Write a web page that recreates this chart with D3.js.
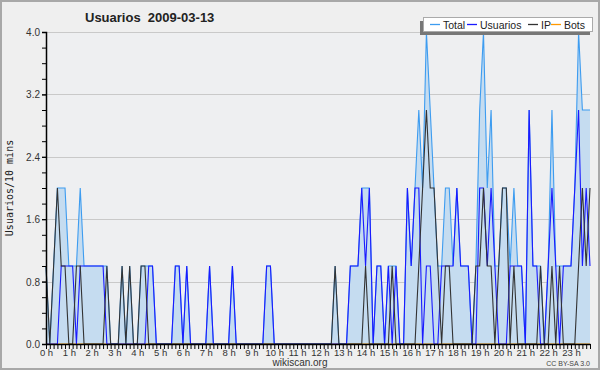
<!DOCTYPE html>
<html>
<head>
<meta charset="utf-8">
<script src="https://cdn.jsdelivr.net/npm/d3@7"></script>
<style>
  html, body { margin: 0; padding: 0; background: #fff; }
  svg { display: block; }
</style>
</head>
<body>
<div id="chart"></div>
<script>
'use strict'

////////////////////////////////////
//////////////// data //////////////
////////////////////////////////////

// one value per 10 minutes, 144 slots
const total = [
    1,0,1,2,2,2,  1,1,1,2,1,1,  1,1,1,1,1,0,  0,0,1,0,1,0,
    0,1,1,1,1,0,  0,0,0,0,1,1,  0,1,0,0,0,0,  0,1,0,0,0,0,
    0,1,0,0,0,0,  0,0,0,0,1,1,  0,0,0,0,0,0,  0,0,0,0,0,0,
    0,0,0,0,1,0,  0,0,1,1,1,2,  2,2,0,1,1,0,  1,1,1,0,0,2,
    1,2,3,2,4,3,  2,1,1,2,2,1,  2,1,1,1,0,1,  3,4,2,3,1,1,
    2,2,1,2,1,1,  0,3,1,1,1,0,  1,3,1,1,1,1,  1,2,4,3,3,3
]
const usuarios = [
    0,0,0,0,1,1,  1,1,0,1,1,1,  1,1,1,1,0,0,  0,0,0,0,0,0,
    0,0,0,1,1,0,  0,0,0,0,1,1,  0,1,0,0,0,0,  0,1,0,0,0,0,
    0,1,0,0,0,0,  0,0,0,0,1,1,  0,0,0,0,0,0,  0,0,0,0,0,0,
    0,0,0,0,0,0,  0,0,1,1,1,2,  1,2,0,1,1,0,  1,0,1,0,0,2,
    1,2,2,0,1,1,  0,0,1,1,1,1,  2,1,1,1,0,0,  2,2,1,2,1,0,
    0,0,1,1,1,1,  0,3,1,1,0,0,  1,2,1,0,1,1,  1,2,3,1,2,1
]
const ip = [
    1,0,1,2,1,1,  0,0,1,1,0,0,  0,0,0,0,1,0,  0,0,1,0,1,0,
    0,1,1,0,0,0,  0,0,0,0,0,0,  0,0,0,0,0,0,  0,0,0,0,0,0,
    0,0,0,0,0,0,  0,0,0,0,0,0,  0,0,0,0,0,0,  0,0,0,0,0,0,
    0,0,0,0,1,0,  0,0,0,0,0,0,  1,0,0,0,0,0,  0,1,0,0,0,0,
    0,0,1,2,3,2,  2,1,0,1,1,0,  0,0,0,0,0,1,  1,2,1,1,0,1,
    2,2,0,1,0,0,  0,0,0,0,1,0,  0,1,0,1,0,0,  0,0,1,2,1,2
]
const bots = new Array(144).fill(0)

const hourLabels = ['0 h','1 h','2 h','3 h','4 h','5 h','6 h','7 h','8 h','9 h','10 h','11 h',
    '12 h','13 h','14 h','15 h','16 h','17 h','18 h','19 h','20 h','21 h','22 h','23 h']
const yTicks = [0, 0.8, 1.6, 2.4, 3.2, 4.0]

const series = [
    {name: 'Total', values: total, color: '#3d9cf0'},
    {name: 'Usuarios', values: usuarios, color: '#1a1aff'},
    {name: 'IP', values: ip, color: '#333333'},
    {name: 'Bots', values: bots, color: '#ff9900'}
]

////////////////////////////////////
//////////// svg setup /////////////
////////////////////////////////////

const svgWidth = 600
const svgHeight = 370
const sans = '"Liberation Sans", Arial, sans-serif'

const plot = {left: 46, right: 590, top: 32, bottom: 344}

const svg = d3.select('#chart')
    .append('svg')
    .attr('width', svgWidth)
    .attr('height', svgHeight)
    .style('font-family', sans)

// background + frame
svg.append('rect')
    .attr('x', 1).attr('y', 1)
    .attr('width', svgWidth - 2).attr('height', svgHeight - 2)
    .attr('fill', '#efefef')
    .attr('stroke', '#a8a8a8')
    .attr('stroke-width', 2)

svg.append('rect')
    .attr('x', plot.left).attr('y', plot.top)
    .attr('width', plot.right - plot.left).attr('height', plot.bottom - plot.top)
    .attr('fill', '#eeeff1')

////////////////////////////////////
//////////////scales////////////////
////////////////////////////////////

const xScale = d3.scaleLinear()
    .domain([0, total.length - 1])
    .range([plot.left, plot.right])

const yScale = d3.scaleLinear()
    .domain([0, 4])
    .range([plot.bottom, plot.top])

////////////////////////////////////
//////////////grid//////////////////
////////////////////////////////////

svg.append('g')
    .selectAll('line')
    .data(yTicks.filter(d => d > 0))
    .join('line')
    .attr('x1', plot.left).attr('x2', plot.right)
    .attr('y1', d => Math.round(yScale(d)) + 0.5)
    .attr('y2', d => Math.round(yScale(d)) + 0.5)
    .attr('stroke', '#c9c9c9')
    .attr('stroke-width', 1)

////////////////////////////////////
//////////////series////////////////
////////////////////////////////////

const area = d3.area()
    .x((d, i) => xScale(i))
    .y0(yScale(0))
    .y1(d => yScale(d))

const line = d3.line()
    .x((d, i) => xScale(i))
    .y(d => yScale(d))

svg.append('path')
    .datum(total)
    .attr('d', area)
    .attr('fill', '#c5dcf0')

// bots first (it sits under the axis), then total, usuarios, ip on top
const drawOrder = [series[3], series[0], series[1], series[2]]

svg.selectAll('.ser')
    .data(drawOrder)
    .join('path')
    .attr('class', 'ser')
    .attr('d', d => line(d.values))
    .attr('fill', 'none')
    .attr('stroke', d => d.color)
    .attr('stroke-width', 1.1)

////////////////////////////////////
//////////////axes//////////////////
////////////////////////////////////

const yAxis = d3.axisLeft(yScale)
    .tickValues(yTicks)
    .tickFormat(d3.format('.1f'))
    .tickSize(4)
    .tickPadding(2)

const yMinor = d3.axisLeft(yScale)
    .tickValues(d3.range(0, 21).map(d => d / 5))
    .tickFormat('')
    .tickSize(4)

const gyMinor = svg.append('g')
    .attr('transform', `translate(${plot.left},0)`)
    .call(yMinor)
gyMinor.select('.domain').remove()

const gy = svg.append('g')
    .attr('transform', `translate(${plot.left},0)`)
    .call(yAxis)
gy.select('.domain').attr('stroke', '#000').attr('stroke-width', 1.5)
gy.selectAll('text')
    .attr('font-size', 10)
    .attr('fill', '#333')
    .attr('dy', '0.35em')

const xAxis = d3.axisBottom(xScale)
    .tickValues(d3.range(0, total.length))
    .tickFormat(d => d % 6 === 0 ? hourLabels[d / 6] : '')
    .tickSize(5)
    .tickPadding(0)
    .tickSizeOuter(0)

const gx = svg.append('g')
    .attr('transform', `translate(0,${plot.bottom})`)
    .call(xAxis)
gx.select('.domain').attr('stroke', '#000').attr('stroke-width', 1.5)
gx.selectAll('text')
    .attr('font-size', 9.5)
    .attr('fill', '#333')

svg.selectAll('.tick line').attr('stroke', '#000')

////////////////////////////////////
//////////////texts/////////////////
////////////////////////////////////

svg.append('text')
    .attr('x', 85).attr('y', 22)
    .attr('font-size', 13)
    .attr('font-weight', 'bold')
    .attr('fill', '#222')
    .attr('xml:space', 'preserve')
    .text('Usuarios  2009-03-13')

svg.append('text')
    .attr('transform', 'translate(13,188) rotate(-90)')
    .attr('text-anchor', 'middle')
    .attr('font-family', '"DejaVu Sans Mono", monospace')
    .attr('font-size', 10)
    .attr('fill', '#222')
    .text('Usuarios/10 mins')

svg.append('text')
    .attr('x', 300).attr('y', 366)
    .attr('text-anchor', 'middle')
    .attr('font-size', 10)
    .attr('fill', '#333')
    .text('wikiscan.org')

svg.append('text')
    .attr('x', 590).attr('y', 366)
    .attr('text-anchor', 'end')
    .attr('font-size', 7)
    .attr('fill', '#444')
    .text('CC BY-SA 3.0')

////////////////////////////////////
//////////////legend////////////////
////////////////////////////////////

const legend = svg.append('g')

legend.append('rect')
    .attr('x', 420).attr('y', 21)
    .attr('width', 170).attr('height', 14)
    .attr('fill', '#777')

legend.append('rect')
    .attr('x', 423.5).attr('y', 17.5)
    .attr('width', 169).attr('height', 14)
    .attr('fill', '#fff')
    .attr('stroke', '#aaa')

const legendX = [430, 467, 528, 551]

const items = legend.selectAll('.item')
    .data(series)
    .join('g')
    .attr('class', 'item')
    .attr('transform', (d, i) => `translate(${legendX[i]},24.5)`)

items.append('line')
    .attr('x1', 0).attr('x2', 10)
    .attr('stroke', d => d.color)
    .attr('stroke-width', 1.3)

items.append('text')
    .attr('x', 13).attr('y', 4)
    .attr('font-size', 10.5)
    .attr('fill', '#222')
    .text(d => d.name)

</script>
</body>
</html>
